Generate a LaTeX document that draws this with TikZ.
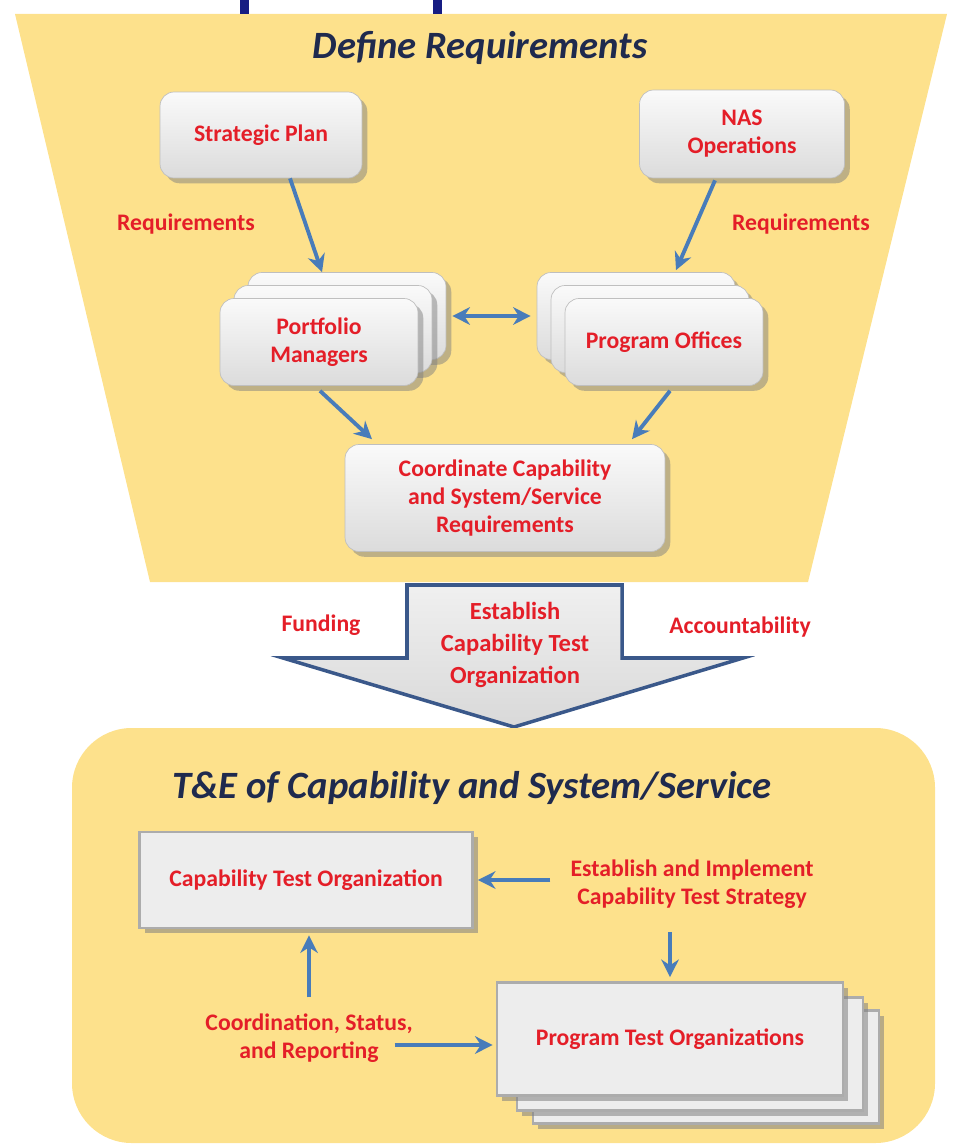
\documentclass[tikz,border=0pt]{standalone}
\usepackage{fontspec}
\setmainfont{Carlito}
\usepackage{xcolor}
\usetikzlibrary{calc}
\usetikzlibrary{arrows.meta}
\usetikzlibrary{shadows}

\definecolor{panel}{RGB}{253,225,140}
\definecolor{navy}{RGB}{31,42,78}
\definecolor{redtxt}{RGB}{228,30,40}
\definecolor{arrowblue}{RGB}{72,124,186}
\definecolor{rim}{RGB}{58,88,138}

\begin{document}
\begin{tikzpicture}[x=0.02cm,y=-0.02cm]

\tikzset{
    pm/.style = {
    minimum height=1.74cm,
    minimum width = 3.96cm
    },
    pto/.style = {
    minimum height=2.26cm,
    minimum width = 6.92cm
    }
}

\tikzstyle{heading}=[font=\bfseries\itshape\fontsize{22}{26}\selectfont, text=navy]
\tikzstyle{redtext}=[font=\bfseries\fontsize{13.5}{16}\selectfont, text=redtxt, align=center]
\tikzstyle{tile}=[rounded corners=8pt, draw=gray!50, top color=gray!4, bottom color=gray!28, drop shadow={opacity=0.5, shadow xshift=3pt, shadow yshift=-3pt}, redtext]
\tikzstyle{bevel}=[draw=gray!65, line width=1.6pt, fill=gray!14, drop shadow={opacity=0.55, shadow xshift=3pt, shadow yshift=-3pt}, redtext]
\tikzstyle{flow}=[draw=arrowblue, line width=2.2pt, -{Stealth[length=10pt,width=10pt]}]

\useasboundingbox (0,0) rectangle (959,1145);

% top panel
\fill[panel] (15,14) -- (947,14) -- (808,582) -- (150,582) -- cycle;
\fill[navy!70!blue] (240,0) rectangle (249,14);
\fill[navy!70!blue] (433,0) rectangle (442,14);
\node (def-title) at (480,48) [heading] {Define Requirements};

\node (plan) at (261,135) [tile, minimum width=4.04cm, minimum height=1.72cm] {Strategic Plan};
\node (nas) at (742,134) [tile, minimum width=4.1cm, minimum height=1.76cm] {NAS\\Operations};

\node (pm-2) at (347,316) [tile, pm] {};
\node (pm-1) at (333,329) [tile, pm] {};
\node (pm-0) at (319,342) [tile, pm] {Portfolio\\Managers};

\node (po-2) at (636,316) [tile, pm] {};
\node (po-1) at (650,329) [tile, pm] {};
\node (po-0) at (664,342) [tile, pm] {Program Offices};

\node (coord) at (505,498) [tile, minimum width=6.4cm, minimum height=2.14cm] {Coordinate Capability\\and System/Service\\Requirements};

\node (req-l) at (186,224) [redtext] {Requirements};
\node (req-r) at (801,224) [redtext] {Requirements};

\draw[flow] ($(plan.south)+(29,0)$) -- ($(pm-2.north)+(-25,0)$);
\draw[flow] ($(nas.south)+(-27,2)$) -- ($(po-2.north)+(40,-2)$);
\draw[flow, {Stealth[length=10pt,width=10pt]}-{Stealth[length=10pt,width=10pt]}] ($(pm-2.east)+(6,0)$) -- ($(po-2.west)+(-6,0)$);
\draw[flow] ($(pm-0.south)+(1,5)$) -- ($(coord.north)+(-133,-5)$);
\draw[flow] ($(po-0.south)+(6,5)$) -- ($(coord.north)+(127,-5)$);

% block arrow
\draw[rim, line width=2pt, top color=gray!12, bottom color=gray!30] (407,585) -- (622,585) -- (622,658) -- (743,658) -- (514,727) -- (283,658) -- (407,658) -- cycle;
\node (est) at (515,645) [redtext, font=\bfseries\fontsize{14}{18}\selectfont] {Establish\\Capability Test\\Organization};
\node (fund) at (321,625) [redtext] {Funding};
\node (acc) at (740,627) [redtext] {Accountability};

% bottom panel
\fill[panel, rounded corners=34pt] (72,728) rectangle (935,1143);
\node (te-title) at (472,788) [heading] {T\&E of Capability and System/Service};

\node (cto) at (306,880) [bevel, minimum width=6.66cm, minimum height=1.92cm] {Capability Test Organization};
\node (strat) at (692,884) [redtext] {Establish and Implement\\Capability Test Strategy};

\node (pto-2) at (706,1067) [bevel, pto] {};
\node (pto-1) at (690,1054) [bevel, pto] {};
\node (pto-0) at (670,1039) [bevel, pto] {Program Test Organizations};

\node (coord-rep) at (309,1038) [redtext] {Coordination, Status,\\and Reporting};

\draw[flow] ($(strat.west)+(-14,-4)$) -- ($(cto.east)+(4,0)$);
\draw[flow] ([yshift=-10pt]strat.south -| pto-0.north) -- ($(pto-0.north)+(0,-4)$);
\draw[flow] ($(coord-rep.north)+(0,-10)$) -- ($(cto.south)+(3,6)$);
\coordinate (rep-out) at ($(coord-rep.east)+(-24,7)$);
\draw[flow] (rep-out) -- ($(rep-out -| pto-0.west)+(-3,0)$);

\end{tikzpicture}
\end{document}
